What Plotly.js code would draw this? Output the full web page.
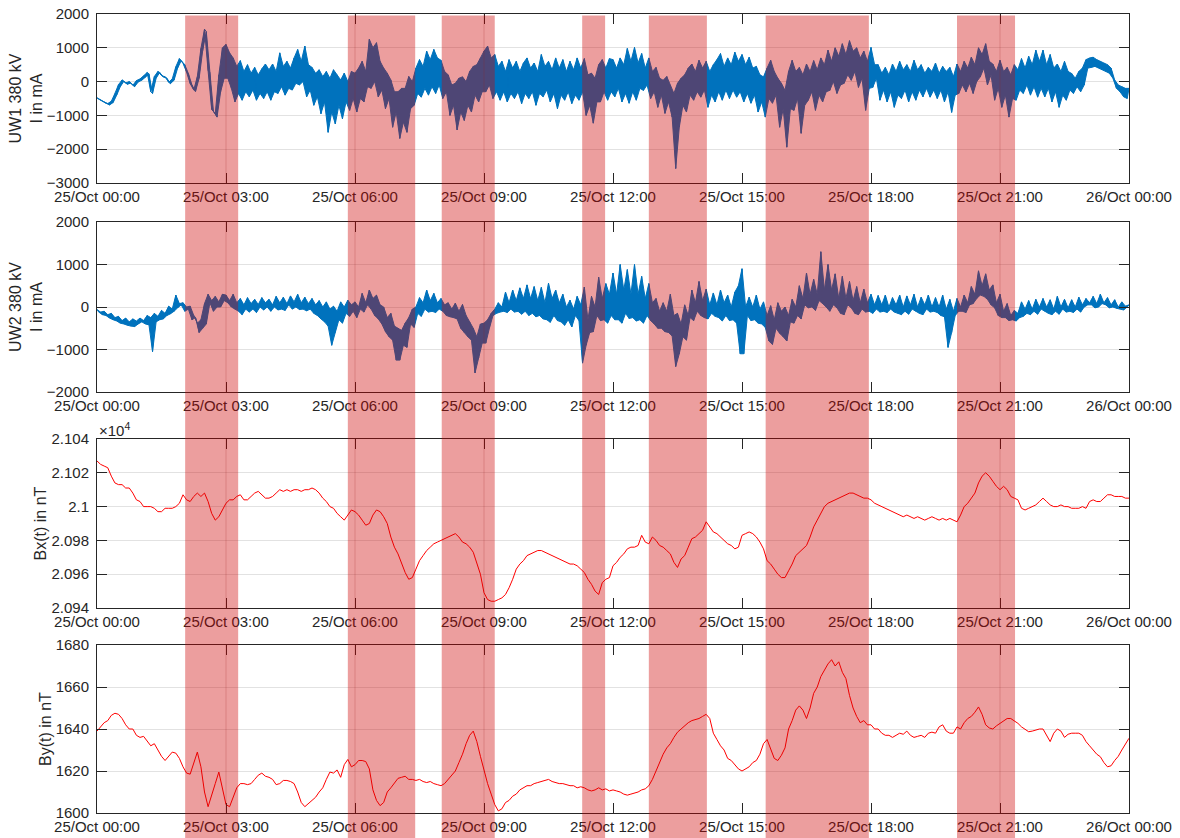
<!DOCTYPE html>
<html>
<head>
<meta charset="utf-8">
<script src="https://cdn.plot.ly/plotly-3.0.1.min.js"></script>
<style>html,body{margin:0;padding:0;background:#fff;}#chart{width:1180px;height:838px;}</style>
</head>
<body>
<div id="chart"></div>
<script>
// ---------- data (5-minute slots, 25/Oct 00:00 .. 26/Oct 00:00) ----------
const startTime = '2021-10-25T00:00:00Z';
const endTime = '2021-10-26T00:00:00Z';
const stepMinutes = 5;

// UW1 current: high / low excursion of the dense signal in each 5-minute slot (mA)
const uw1Hi = [
-480,-540,-600,-650,-580,-350,-90,50,-40,0,-110,30,
80,170,270,-300,150,300,180,140,-20,80,440,680,
540,280,-60,-250,150,980,1550,320,-820,-950,200,1000,
1100,850,700,450,620,300,500,250,420,200,380,520,
350,520,300,850,450,600,400,700,950,600,1050,500,
420,250,350,150,300,100,350,200,50,250,0,300,
250,400,600,300,1250,1000,1150,600,400,250,50,-300,
-300,-200,-200,150,0,400,650,450,900,650,950,700,
630,300,200,-100,-50,100,140,0,300,450,500,700,
900,1050,700,800,450,600,300,650,400,600,300,550,
700,400,550,300,800,450,600,350,700,400,650,300,
600,350,700,400,680,200,250,100,500,650,400,680,
650,400,700,500,980,600,1010,550,830,400,700,300,
420,100,40,150,-100,-350,-50,100,200,400,520,300,
630,400,600,300,500,650,830,450,700,500,870,600,
800,500,720,400,450,200,140,400,630,300,100,-50,
-260,300,630,300,420,200,520,300,620,350,700,500,
930,600,1000,750,1120,800,1210,900,1000,700,900,600,
1010,500,500,250,420,200,520,300,600,350,500,300,
630,350,500,250,420,300,550,250,450,300,420,150,
520,300,600,400,720,500,1000,800,1120,600,520,300,
630,300,420,200,500,350,680,400,750,500,930,600,
930,500,800,400,520,300,600,300,240,100,300,400,
650,700,720,650,600,550,500,400,50,-100,-150,-200,
-200];
const uw1Lo = [
-520,-580,-640,-690,-620,-400,-150,10,-80,-40,-150,-10,
40,130,230,-350,100,270,140,100,-60,40,400,620,
500,240,-100,-290,100,920,1480,280,-880,-1050,-300,100,
100,-200,-600,-350,-550,-300,-450,-250,-550,-350,-500,-300,
-550,-300,-350,-150,-400,-200,-250,-50,-100,0,-450,-250,
-700,-450,-950,-600,-1500,-900,-1250,-700,-1100,-600,-850,-500,
-900,-500,-600,-150,-200,0,-450,-250,-800,-500,-1350,-900,
-1680,-1200,-1500,-800,-700,-350,-460,-200,-400,-150,-350,-100,
-500,-300,-1000,-700,-1430,-900,-1150,-700,-900,-400,-600,-300,
-300,-100,-500,-300,-550,-300,-600,-350,-500,-300,-650,-350,
-500,-300,-700,-350,-450,-250,-600,-350,-800,-400,-550,-300,
-650,-400,-550,-300,-1000,-700,-1230,-600,-600,-300,-550,-300,
-450,-200,-600,-350,-640,-300,-550,-200,-260,-100,-500,-300,
-760,-400,-940,-600,-1050,-2570,-1350,-700,-900,-400,-550,-300,
-460,-250,-760,-400,-600,-300,-550,-250,-500,-250,-460,-300,
-600,-350,-640,-400,-900,-600,-1050,-500,-640,-400,-1350,-800,
-1940,-800,-850,-500,-1530,-700,-550,-300,-850,-400,-600,-300,
-260,0,-350,-100,-50,200,40,300,-170,100,-850,-200,
-170,100,-550,-250,-600,-300,-760,-400,-500,-250,-600,-300,
-550,-250,-450,-200,-460,-250,-500,-250,-600,-300,-910,-400,
-350,-100,-300,-50,-350,0,140,400,-100,200,-550,-200,
-760,-400,-1050,-500,-550,-250,-350,-100,-400,-150,-460,-200,
-450,-200,-600,-300,-760,-400,-550,-250,-350,-150,-300,-100,
400,420,450,400,350,300,250,100,-200,-300,-450,-500,
-500];

// UW2 current: high / low excursion per 5-minute slot (mA)
const uw2Hi = [
-60,-120,-100,-180,-150,-250,-220,-320,-260,-350,-280,-330,
-260,-320,-200,-250,-150,-220,-80,-150,20,-50,280,80,
100,0,20,-200,-380,-300,80,300,150,250,120,300,
280,150,300,100,200,50,220,80,180,60,220,100,
180,50,250,100,230,80,260,120,300,100,230,80,
200,50,150,0,120,-50,20,-100,120,0,160,50,
120,0,320,100,400,200,280,50,0,-250,-150,-450,
-500,-550,-380,-250,-50,0,220,100,400,150,320,100,
200,50,100,-50,90,-100,60,-200,-350,-500,-700,-400,
-380,-300,-150,-50,100,0,350,100,400,150,450,200,
520,200,480,150,460,100,560,200,400,100,300,0,
160,-50,250,50,470,-300,250,0,700,200,550,300,
800,300,1000,400,880,300,1000,300,720,200,550,100,
200,-100,100,-100,300,-200,-150,-400,50,-200,400,100,
600,150,420,50,330,50,400,100,280,0,350,500,
900,0,230,0,280,-50,120,-200,30,-300,100,-100,
0,-200,180,0,500,200,800,300,650,300,1300,400,
1000,400,780,200,720,200,600,150,480,100,420,100,
300,50,270,50,280,0,220,50,280,0,260,50,
300,0,230,50,280,0,220,0,280,-50,180,-100,
200,0,280,100,480,300,850,500,780,400,520,100,
300,-100,80,-200,-80,-150,120,-50,150,-50,180,0,
200,0,170,-50,250,0,180,-20,170,0,230,50,
200,100,250,80,300,100,220,50,170,0,120,20,
50];
const uw2Lo = [
-120,-180,-200,-260,-300,-330,-380,-400,-430,-450,-460,-400,
-350,-400,-420,-1050,-350,-300,-280,-200,-160,-100,-20,50,
-100,-50,-300,-250,-600,-500,-400,100,-100,0,0,150,
100,0,-50,-100,-180,-50,-120,-50,-130,0,-70,0,
-100,0,-70,-50,-80,50,-50,0,-60,-50,-90,-50,
-150,-200,-280,-350,-450,-900,-600,-300,-380,-150,-220,-100,
-250,-50,-120,50,-50,-200,-280,-400,-580,-700,-780,-1250,
-1250,-900,-950,-400,-480,-150,-220,-50,-120,-100,-130,-50,
-100,-200,-230,-250,-280,-500,-600,-700,-780,-1550,-1200,-850,
-850,-500,-200,-150,-120,-100,-130,-50,-120,-100,-170,-100,
-200,-150,-230,-200,-280,-300,-360,-200,-320,-350,-430,-300,
-470,-200,-320,-1320,-900,-600,-580,-200,-320,-300,-380,-200,
-300,-300,-380,-150,-270,-250,-330,-300,-380,-200,-320,-400,
-500,-500,-580,-600,-680,-1400,-1100,-700,-780,-250,-320,-100,
-200,-250,-280,-150,-220,-250,-330,-200,-320,-300,-380,-1100,
-1100,-200,-320,-300,-380,-400,-480,-800,-880,-500,-620,-700,
-800,-350,-380,-200,-280,50,-20,0,-80,150,80,0,
-100,50,-20,-150,-180,50,-20,-150,-180,-50,-120,-100,
-150,-50,-120,-100,-130,-50,-120,-150,-180,-100,-170,-50,
-100,-150,-180,-50,-120,-100,-130,-200,-230,-950,-600,-200,
-100,-100,-130,50,80,200,280,250,180,50,-20,-200,
-250,-250,-320,-300,-330,-250,-220,-150,-180,-100,-170,-50,
-100,-150,-180,-100,-170,-50,-120,-100,-130,-50,-120,0,
50,50,-20,0,80,50,-20,0,-30,-50,-70,0,
0];

// Bx in nT (axis shown as x10^4)
const bx = [
21027,21025,21024,21023,21018,21014,21013,21013,21011,21011,21008,21004,
21003,21000,21000,21000,20999,20997,20997,20999,20999,20999,21000,21002,
21007,21004,21003,21006,21008,21006,21008,21003,20996,20992,20994,20998,
21002,21004,21004,21006,21007,21004,21004,21006,21008,21009,21007,21005,
21005,21006,21008,21010,21009,21010,21009,21010,21010,21009,21010,21010,
21011,21010,21008,21005,21003,21000,20999,20996,20994,20992,20995,20998,
20997,20995,20992,20989,20990,20995,20998,20997,20994,20990,20982,20976,
20972,20966,20961,20957,20958,20963,20968,20971,20974,20976,20978,20979,
20980,20981,20982,20983,20984,20982,20979,20978,20976,20973,20967,20960,
20949,20945,20944,20944,20945,20946,20948,20952,20957,20963,20966,20968,
20971,20972,20973,20974,20974,20973,20972,20971,20970,20969,20968,20967,
20966,20966,20965,20963,20961,20957,20954,20950,20948,20955,20957,20958,
20965,20967,20970,20972,20975,20976,20976,20977,20983,20979,20978,20982,
20980,20977,20976,20974,20972,20967,20964,20969,20971,20976,20981,20982,
20984,20986,20991,20988,20985,20984,20982,20980,20978,20977,20975,20976,
20983,20984,20985,20984,20982,20979,20975,20968,20966,20963,20960,20958,
20958,20962,20966,20971,20973,20975,20977,20982,20988,20992,20996,21000,
21002,21003,21004,21005,21006,21007,21008,21008,21007,21006,21005,21005,
21004,21002,21001,21000,20999,20998,20997,20996,20995,20994,20995,20994,
20993,20994,20993,20992,20993,20994,20993,20992,20993,20992,20993,20992,
20991,20995,21000,21002,21005,21008,21014,21018,21020,21018,21015,21012,
21010,21012,21010,21006,21005,21004,20999,20998,20999,21000,21001,21003,
21005,21003,21001,21000,21000,21001,21000,21000,20999,20999,20999,21000,
20999,21003,21004,21003,21003,21005,21007,21007,21006,21006,21006,21005,
21005];

// By in nT
const by = [
1639,1641,1643,1644,1646.5,1647.5,1647,1645,1642,1640,1640,1637,
1636,1636.5,1634,1632,1633,1630,1627,1625,1627,1629,1628.5,1626,
1622,1619,1618.5,1624,1629,1622,1610,1603,1608,1614,1619.5,1612,
1604,1603,1608,1612,1614,1614,1613.5,1614,1616,1618,1619,1617.5,
1617,1616,1613.5,1614,1615.5,1615.5,1615,1614,1610,1605,1603,1604.5,
1606,1607.5,1610,1612,1616,1619.5,1619,1620.5,1617,1623,1625.5,1622,
1623,1625,1625,1624.5,1621,1611,1606,1603.5,1605,1610,1612,1614,
1616.5,1617,1617.5,1616,1616,1615.5,1616,1615,1614.5,1615,1614,1613.5,
1613,1614,1616,1618,1620,1624,1628,1633,1637,1639,1634,1627,
1620,1614,1609,1604,1601,1602,1605,1606,1608,1609,1611,1612,
1613,1613,1614,1614.5,1615,1615.5,1616,1615,1614.5,1614,1614,1613.5,
1613,1613,1612,1612.5,1612,1611,1610.5,1611,1612,1611,1611.5,1610.5,
1611,1610.5,1610,1609,1608.5,1609,1609.5,1610,1611,1611.5,1613,1616,
1620,1624,1628,1631,1633,1636,1638.5,1640,1641.5,1643,1644,1644.5,
1645,1646,1647,1645,1638,1635,1632,1630,1626,1625,1623,1621,
1620,1621,1622,1624,1625,1628,1633,1635,1630,1626,1625,1627.5,
1631,1640,1644,1649,1651,1649,1645,1650,1657,1660,1665,1668,
1671,1673,1670,1672,1667,1664,1656,1650,1646,1643,1644,1642,
1642,1640,1640,1638,1637,1637,1636,1637,1638,1637.5,1639,1637,
1636,1636.5,1637,1636,1638,1638.5,1638,1641,1642,1639,1638,1638,
1641,1640,1643,1645,1646,1648,1650.5,1647,1642,1640.5,1640,1641.5,
1642.7,1643.5,1645,1645,1644,1642.7,1641,1640,1638.7,1639,1639.5,1640,
1640,1637,1634,1638,1640,1639,1636,1637.5,1638,1638,1638,1637,
1634,1632,1630,1628,1626.8,1624,1622,1622.5,1625,1627,1630,1633,
1635.6];

// shaded event windows
const shadeStart = ['02:03','05:50','08:01','11:17','12:50','15:33','20:00'];
const shadeEnd   = ['03:17','07:24','09:15','11:49','14:11','17:57','21:21'];

// axis ticks / labels
const tickHours = [0,3,6,9,12,15,18,21,24];
const bxTickVals = [20940,20960,20980,21000,21020,21040];
const bxTickText = ['2.094','2.096','2.098','2.1','2.102','2.104'];
const panelTitles = ['UW1 380 kV<br>I in mA','UW2 380 kV<br>I in mA','Bx(t) in nT','By(t) in nT'];

// ---------- build ----------
const t0 = Date.parse(startTime);
const stepMs = stepMinutes*60000;
function toStr(ms){ return new Date(ms).toISOString().replace('T',' ').slice(0,23); }
const times = bx.map((_, i) => toStr(t0 + i*stepMs));
const timesHalf = bx.map((_, i) => toStr(t0 + i*stepMs + stepMs/2));
function hmMs(s){ const p=s.split(':'); return t0 + (+p[0]*60 + +p[1])*60000; }

// dense signal: each slot's high excursion at the slot start, its low excursion half a slot later
function dense(hi, lo){
  const x=[], y=[];
  hi.forEach((v,i) => {
    x.push(times[i]); y.push(v);
    if (i < hi.length-1){ x.push(timesHalf[i]); y.push(lo[i]); }
  });
  return {x, y};
}

const FONT = 'Liberation Sans, Arial, Helvetica, sans-serif';
const TXT = '#262626';
const BLUE = '#0072BD';

const W=1180, H=838, ML=97, MR=51, MT=14, MB=25;
const PH = H-MT-MB;
const panelPx = [[14,183],[222,392],[439,608],[645,813]];
const domains = panelPx.map(p => [1-(p[1]-MT)/PH, 1-(p[0]-MT)/PH]);

function currentTraces(hi, lo, xa, ya, w){
  const d = dense(hi, lo);
  const loLast = lo.slice(0, lo.length-1), loT = timesHalf.slice(0, lo.length-1);
  return [
    {x: times, y: hi, xaxis:xa, yaxis:ya, type:'scatter', mode:'lines', line:{color:BLUE, width:1, simplify:false}, hoverinfo:'skip'},
    {x: loT, y: loLast, xaxis:xa, yaxis:ya, type:'scatter', mode:'lines', line:{color:BLUE, width:1, simplify:false}, fill:'tonexty', fillcolor:BLUE, hoverinfo:'skip'},
    {x: d.x, y: d.y, xaxis:xa, yaxis:ya, type:'scatter', mode:'lines', line:{color:BLUE, width:w, simplify:false}, hoverinfo:'skip'}
  ];
}

const traces = [].concat(
  currentTraces(uw1Hi, uw1Lo, 'x', 'y', 1),
  currentTraces(uw2Hi, uw2Lo, 'x2', 'y2', 1),
  [{x: times, y: bx, xaxis:'x3', yaxis:'y3', type:'scatter', mode:'lines', line:{color:'#FF0000', width:1}, hoverinfo:'skip'},
   {x: times, y: by, xaxis:'x4', yaxis:'y4', type:'scatter', mode:'lines', line:{color:'#FF0000', width:1}, hoverinfo:'skip'}]
);

const tickVals = tickHours.map(h => toStr(t0 + h*3600000));
function xAxis(anchor){
  return {anchor: anchor, domain:[0,1], type:'date', range:[toStr(t0), toStr(Date.parse(endTime))],
    tickvals: tickVals, tickformat:'%d/%b %H:%M', ticks:'inside', ticklen:10, tickcolor:TXT, tickwidth:1,
    showline:true, linecolor:TXT, linewidth:1, mirror:'ticks', showgrid:false, zeroline:false,
    tickfont:{family:FONT, size:15, color:TXT}};
}
function yAxis(anchor, dom, range, title, extra){
  return Object.assign({anchor: anchor, domain: dom, range: range, ticks:'inside', ticklen:10, tickcolor:TXT, tickwidth:1,
    showline:true, linecolor:TXT, linewidth:1, mirror:'ticks', showgrid:true, gridcolor:'#e2e2e2', gridwidth:1, zeroline:false,
    ticklabelstandoff:4,
    tickfont:{family:FONT, size:15, color:TXT},
    title:{text:title, font:{family:FONT, size:16, color:TXT}}}, extra||{});
}

const shapes = [];
// vertical grid lines that show through the shaded windows
for (let k=0;k<4;k++){
  tickHours.forEach(h => {
    const t = t0 + h*3600000;
    const inside = shadeStart.some((s,i) => t > hmMs(s) && t < hmMs(shadeEnd[i]));
    if (inside){
      shapes.push({type:'line', layer:'above', xref:'x', yref: (k===0?'y':'y'+(k+1))+' domain',
        x0: toStr(t), x1: toStr(t), y0:0, y1:1, line:{color:'rgba(120,40,40,0.22)', width:1}});
    }
  });
}
shadeStart.forEach((s,i) => {
  shapes.push({type:'rect', layer:'above', xref:'x', yref:'paper', x0: toStr(hmMs(s)), x1: toStr(hmMs(shadeEnd[i])),
    y0: -MB/PH - 0.01, y1: 1 - 1.5/PH, fillcolor:'rgba(205,0,0,0.38)', line:{width:0}});
});

const layout = {
  width: W, height: H, margin:{l:ML, r:MR, t:MT, b:MB}, paper_bgcolor:'#ffffff', plot_bgcolor:'#ffffff',
  showlegend:false, hovermode:false,
  font:{family:FONT, color:TXT},
  xaxis: xAxis('y'), xaxis2: xAxis('y2'), xaxis3: xAxis('y3'), xaxis4: xAxis('y4'),
  yaxis: yAxis('x', domains[0], [-3000,2000], panelTitles[0], {tickvals:[-3000,-2000,-1000,0,1000,2000]}),
  yaxis2: yAxis('x2', domains[1], [-2000,2000], panelTitles[1], {tickvals:[-2000,-1000,0,1000,2000]}),
  yaxis3: yAxis('x3', domains[2], [20940,21040], panelTitles[2], {tickvals:bxTickVals, ticktext:bxTickText}),
  yaxis4: yAxis('x4', domains[3], [1600,1680], panelTitles[3], {tickvals:[1600,1620,1640,1660,1680]}),
  shapes: shapes,
  annotations: [{xref:'paper', yref:'paper', x:0, y:domains[2][1], xanchor:'left', yanchor:'bottom', yshift:-2,
    text:'×10<sup>4</sup>', showarrow:false, font:{family:FONT, size:15, color:TXT}}]
};

Plotly.newPlot('chart', traces, layout, {staticPlot:true, displayModeBar:false});
</script>
</body>
</html>
